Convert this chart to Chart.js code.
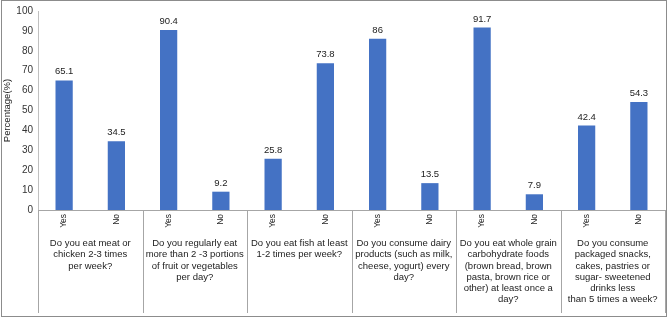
<!DOCTYPE html>
<html>
<head>
<meta charset="utf-8">
<script src="https://cdn.jsdelivr.net/npm/chart.js@4/dist/chart.umd.min.js"></script>
<style>
html,body{margin:0;padding:0;background:#fff;}
#wrap{position:relative;width:668px;height:319px;}
</style>
</head>
<body>
<div id="wrap"><canvas id="c" width="668" height="319"></canvas></div>
<script>
const answerLabels = ['Yes','No','Yes','No','Yes','No','Yes','No','Yes','No','Yes','No'];
const percentValues = [65.1, 34.5, 90.4, 9.2, 25.8, 73.8, 86, 13.5, 91.7, 7.9, 42.4, 54.3];
const questionLabels = [
  ['Do you eat meat or','chicken 2-3 times','per week?'],
  ['Do you regularly eat','more than 2 -3 portions','of fruit or vegetables','per day?'],
  ['Do you eat fish at least','1-2 times per week?'],
  ['Do you consume dairy','products (such as milk,','cheese, yogurt) every','day?'],
  ['Do you eat whole grain','carbohydrate foods','(brown bread, brown','pasta, brown rice or','other) at least once a','day?'],
  ['Do you consume','packaged snacks,','cakes, pastries or','sugar- sweetened','drinks less','than 5 times a week?']
];
const yTicks = [0,10,20,30,40,50,60,70,80,90,100];

const FONT = "'Liberation Sans', Arial, sans-serif";

const decor = {
  id: 'decor',
  afterDatasetsDraw(chart) {
    const ctx = chart.ctx;
    const meta = chart.getDatasetMeta(0);
    ctx.save();
    ctx.fillStyle = '#222';
    ctx.font = '9.5px ' + FONT;
    ctx.textAlign = 'center';
    ctx.textBaseline = 'alphabetic';
    meta.data.forEach((bar, i) => {
      ctx.fillText(String(percentValues[i]), bar.x, bar.y - 6);
    });
    ctx.restore();
  },
  afterDraw(chart) {
    const ctx = chart.ctx;
    const xs = chart.scales.x;
    const n = questionLabels.length;
    ctx.save();
    ctx.strokeStyle = '#a6a6a6';
    ctx.lineWidth = 1;
    for (let i = 0; i <= n; i++) {
      const x = Math.round(xs.left + i * xs.width / n) + 0.5;
      ctx.beginPath();
      ctx.moveTo(x, chart.chartArea.bottom);
      ctx.lineTo(x, 313);
      ctx.stroke();
    }
    ctx.strokeStyle = '#8c8c8c';
    ctx.strokeRect(1.5, 0.5, 665, 316);
    ctx.restore();
  }
};

new Chart(document.getElementById('c'), {
  type: 'bar',
  data: {
    labels: answerLabels,
    datasets: [{
      data: percentValues,
      backgroundColor: '#4472C4',
      borderWidth: 0,
      categoryPercentage: 1,
      barPercentage: 0.33
    }]
  },
  options: {
    responsive: false,
    animation: false,
    events: [],
    layout: { padding: { top: 10, right: 3, bottom: 6, left: 0 } },
    plugins: { legend: { display: false }, tooltip: { enabled: false } },
    scales: {
      y: {
        min: 0, max: 100,
        afterBuildTicks(scale) { scale.ticks = yTicks.map(v => ({ value: v })); },
        afterFit(scale) { scale.width = 38; },
        grid: { display: false, drawTicks: false },
        border: { display: true, color: '#bfbfbf' },
        ticks: { font: { size: 10, family: FONT }, color: '#333', padding: 5 },
        title: { display: true, text: 'Percentage(%)', font: { size: 9.5, family: FONT }, color: '#222', padding: { top: 2, bottom: 0 } }
      },
      x: {
        position: 'bottom',
        afterFit(scale) { scale.height = 27; },
        grid: { display: false, drawTicks: false },
        border: { display: true, color: '#a6a6a6' },
        ticks: { font: { size: 8.5, family: FONT }, color: '#222', minRotation: 90, maxRotation: 90, padding: 4, autoSkip: false }
      },
      x2: {
        type: 'category',
        position: 'bottom',
        labels: questionLabels,
        offset: true,
        afterFit(scale) { scale.height = 76; },
        grid: { display: false, drawTicks: false },
        border: { display: false },
        ticks: { font: { size: 9.5, family: FONT, lineHeight: 1.18 }, color: '#222', maxRotation: 0, minRotation: 0, padding: 1, autoSkip: false }
      }
    }
  },
  plugins: [decor]
});
</script>
</body>
</html>
